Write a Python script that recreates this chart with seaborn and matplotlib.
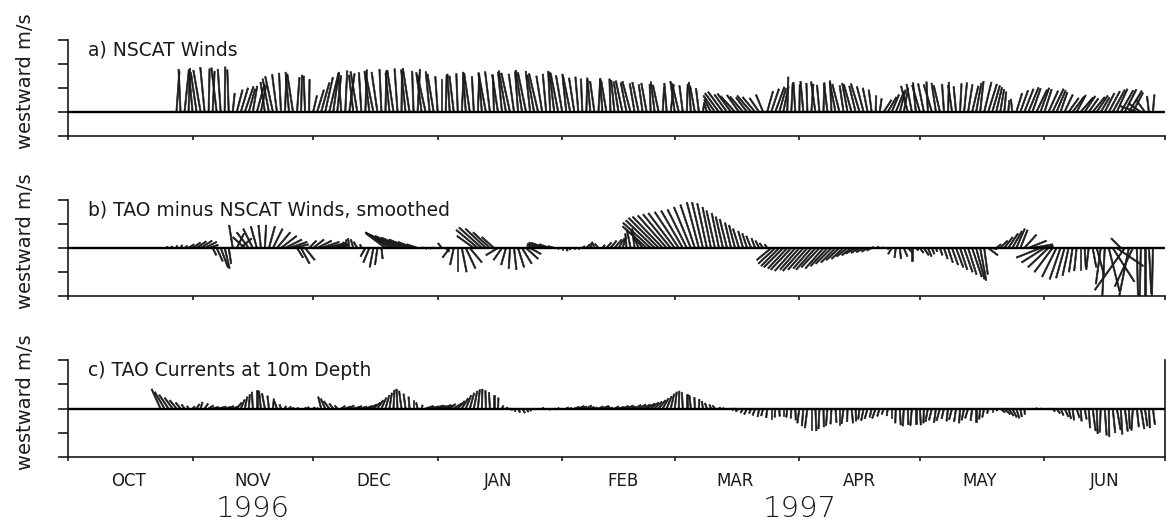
import numpy as np
import pandas as pd
import matplotlib
matplotlib.use("Agg")
import matplotlib.pyplot as plt
import matplotlib.dates as mdates
import matplotlib.ticker as mticker
from matplotlib.transforms import blended_transform_factory
import seaborn as sns

# ---------------------------------------------------------------------------
# Daily vector series (u = northward-ish component drawn sideways,
# v = westward component drawn upward), m/s
# ---------------------------------------------------------------------------

# a) NSCAT winds, daily from 1996-10-28
nscat_start = "1996-10-28"
nscat_u = [
    0.6, -0.4, 0.9, 0.3, -0.8, -1.2, -1.5, -0.9, 0.2, 0.4, -1.1, -0.6, 0.1, -0.3,
    0.4, 1.2, 1.5, 1.8, 1.3, 0.9, 1.6, 1.1,
    -0.9, -1.3, -1.6, -1.0, -0.4, 0.3, -0.7, -1.2, 0.5, 0.2, -0.3, 0.1,
    0.8, 1.4, 1.7,
    1.6, 1.9, 1.2, 0.8, -0.6, 0.4, 1.1, -0.9, -1.4, -0.5, 0.3, -1.0, -1.6, -1.2, -0.4, 0.2, -0.8, -1.3, -0.6, 0.1,
    -0.9, -1.4, -0.3, 0.5, -1.1, -1.7, -0.8, -1.3, -0.5, 0.0,
    0.2, -0.5, -0.9, -0.3, 0.4, -0.6, -1.2, -0.4, 0.3, -0.7, -1.5, -1.0, -0.2,
    -1.2, -0.8, -1.5, -1.8, -1.1, -0.6, -1.3, -1.7, -0.9, -1.4, -1.9, -1.2, -0.7, -0.4, -1.0, -1.6, -1.3, -0.8, -1.5, -1.1, -0.6,
    -0.3, 0.2, -0.6, -0.9, 0.4, -0.5, -1.1, -0.2, -0.7, -1.0,
    -1.4, -1.2, -1.7, -1.0, -1.3, -0.8, -1.1,
    -0.2, -0.8, -1.2, 0.3, -0.5, 0.6, -0.9, -1.4, -0.7, 0.2, -0.4, -1.0, -0.6,
    0.3, -0.5,
    -1.4, -2.4, -2.9, -3.1, -2.6, -2.8, -3.0, -2.5, -2.7, -2.3, -2.9, -2.6, -2.0, -1.5,
    1.2, 1.6, 1.9, 1.4, 1.1,
    0.2,
    0.3, -0.4, 0.1, -0.6, -0.2, 0.4, -0.9, -0.5, 0.2, -0.7, -0.3, -1.2, -1.5, -0.8, -1.1, -1.6, -1.3, -1.8, -1.4, -1.0, -0.6,
    0.1, 0.4,
    1.6, 1.8, 1.5, 1.7, 1.2, 0.9,
    -1.4, -1.1, -0.6, -1.6, -1.2, -0.3, -1.7, -0.9, -1.3, -0.4, 0.2, -0.8, -0.5, 0.3, 0.6, 0.9, 1.3, 1.1, 0.7, 1.5, 1.8, 1.6, 1.2, 0.8, 0.4,
    0.2, -0.3,
    1.2, 1.6, 1.9, 2.1, 1.7, 2.2, 1.8, 1.5, 2.0, 2.3, 1.9, 1.4, 1.7,
    2.1, 2.4, 1.9, 2.6, 2.2, 2.0, 2.5, 2.3, 1.8,
    2.0, 2.3, 2.5, 2.2, 2.6, 2.4, 2.7, 2.1,
    -3.4, -2.6, -1.8, -0.4, 0.3,
]
nscat_v = [
    8.4, 8.9, 8.6, 9.1, 8.8, 8.2, 8.7, 9.3, 9.0, 8.5, 9.2, 8.9, 9.4, 8.8,
    3.9, 4.6, 5.0, 5.3, 4.8, 5.4, 5.8, 5.5,
    6.2, 6.9, 7.4, 7.8, 8.1, 7.6, 8.3, 7.9, 7.2, 7.7, 7.5, 6.8,
    3.4, 4.6, 6.1,
    7.2, 7.9, 8.3, 7.6, 8.1, 8.6, 8.0, 7.7, 8.4, 8.2, 8.8, 8.5, 7.9, 8.3, 8.9, 8.6, 8.1, 8.7, 9.0, 8.4,
    8.8, 9.1, 8.5, 8.9, 8.2, 7.6, 8.4, 7.9, 7.4, 6.8,
    7.6, 7.9, 7.5, 8.0, 7.8, 8.3, 8.1, 7.4, 7.7, 8.2, 7.9, 8.4, 7.6,
    7.8, 8.3, 8.6, 8.1, 7.9, 8.4, 8.7, 8.2, 8.5, 7.7, 8.0, 7.5, 7.9, 8.5, 8.3, 8.1, 7.6, 7.9, 7.4, 7.1, 7.3,
    6.9, 7.1, 6.7, 6.4, 7.0, 6.8, 6.5, 6.9, 6.6, 6.3,
    6.5, 6.1, 6.4, 5.9, 6.2, 5.7, 6.0,
    5.8, 6.3, 5.6, 5.2, 6.0, 5.7, 6.4, 5.9, 5.5, 5.8, 6.2, 5.4, 4.9,
    2.0, 1.6,
    2.6, 3.4, 3.9, 4.2, 3.6, 3.8, 3.3, 3.5, 3.2, 3.0, 3.4, 3.1, 2.9, 3.6,
    4.3, 4.8, 5.2, 4.9, 5.3,
    7.3,
    5.9, 6.2, 5.7, 6.4, 6.0, 5.8, 6.3, 5.6, 6.1, 5.9, 6.5, 6.2, 5.8, 5.5, 6.0, 5.7, 5.4, 5.9, 5.3, 5.0, 4.6,
    3.4, 2.8,
    2.5, 3.1, 3.6, 4.2, 4.6, 5.0,
    5.4, 5.8, 6.1, 5.6, 5.9, 6.3, 5.7, 6.0, 5.5, 5.8, 6.2, 5.6, 5.3, 5.9, 6.1, 5.7, 5.4, 6.0, 6.4, 6.2, 5.8, 5.5, 5.1, 4.7, 4.2,
    2.4, 2.7,
    3.9, 4.5, 4.8, 5.1, 4.9, 4.6, 5.0, 4.7, 4.4, 4.8, 4.5, 4.1, 3.6,
    2.9, 3.2, 3.5, 3.0, 3.3, 2.8, 3.1, 3.4, 3.0,
    3.9, 4.3, 4.6, 4.8, 4.5, 4.7, 4.4, 4.0,
    1.2, 1.8, 2.5, 3.3, 3.6,
]

# b) TAO minus NSCAT winds (smoothed), daily from 1996-10-26
diff_start = "1996-10-26"
diff_u = [
    -0.15, -0.10, 0.05, 0.15, 0.25,
    0.45, 0.65, 0.80, 0.95, 1.00, 0.80,
    0.3, 0.5, 0.6, 0.4, 0.2,
    -0.3,
    0.6, 0.9,
    -1.0, -1.0, -0.8, -0.5, -0.2, 0.1, 0.5, 0.8, 1.1, 1.3, 1.4, 1.5, 1.3,
    0.5, 0.7, 0.8,
    0.6, 0.9, 1.2, 1.5, 1.7, 1.6, 1.2,
    0.3, 0.2, 0.1, -0.1, -0.2, -0.3, -0.1,
    -0.4, -0.5, -0.3, -0.2, 0.1,
    -1.6, -2.0, -2.3, -2.4, -2.2, -2.0, -1.7, -1.3, -0.9,
    0.1, 0.05, 0.1, -0.1, 0.0,
    -0.3, 0.3,
    -0.6, -0.3, 0.0, 0.4, 0.8, 1.0,
    -1.4, -1.8, -1.9, -1.7, -1.4, -1.0,
    -1.0, -0.7, -0.4, -0.1, 0.2, 0.5, 0.8, 1.0, 0.9,
    -0.6, -0.9, -1.1, -1.2, -0.9, -0.5,
    0.05, 0.0, 0.1, -0.05, 0.1, 0.05,
    0.2, 0.3, 0.1, -0.2, -0.3, 0.2, 0.4, 0.5, 0.6, 0.5,
    0.3, -0.1, -0.3, -0.2, -0.6, -0.9,
    -2.0, -2.3, -2.4, -2.5, -2.5, -2.4, -2.3, -2.2, -2.0, -1.8, -1.6, -1.4, -1.2, -1.0, -0.9, -0.8,
    -0.7, -0.7, -0.6, -0.6, -0.6, -0.5, -0.5, -0.5, -0.4, -0.4, -0.4, -0.3, -0.3, -0.3, -0.2,
    -1.2, -1.4, -1.5, -1.6, -1.6, -1.7, -1.7, -1.6, -1.7, -1.6, -1.5, -1.6, -1.5,
    -1.5, -1.4, -1.3, -1.2, -1.1, -1.0, -0.9, -0.8, -0.8, -0.7, -0.6, -0.5, -0.4,
    -0.3, -0.2, -0.1, 0.0, -0.3, -0.1, 0.1, 0.3, 0.4,
    0.0,
    0.2, 0.3, 0.4, 0.3, 0.2, 0.1,
    0.2, 0.3, 0.4, 0.5, 0.6, 0.6, 0.7, 0.7, 0.8, 0.7, 0.5, 0.3,
    0.8, 0.4,
    0.4, 0.6, 0.7, 0.8, 0.8, 0.7, 0.6, 1.0, 1.5, 1.7, 1.4,
    -2.0, -1.9, -1.7, -1.5, -1.2, -0.9, -0.7, -0.5, -0.3, -0.2, 0.0, 0.1, -0.2,
    0.3, 0.6, -0.4, -0.2, 0.9, 1.8, 2.2, -0.8, -2.5, -0.8, -1.5, 0.1, -0.1, 0.0, 0.2, -0.1,
]
diff_v = [
    0.10, 0.15, 0.20, 0.25, 0.18,
    0.30, 0.45, 0.55, 0.60, 0.50, 0.25,
    -0.6, -1.1, -1.6, -1.7, -1.3,
    1.9,
    1.2, 0.8,
    0.9, 1.3, 1.6, 1.8, 1.9, 1.9, 1.8, 1.6, 1.3, 1.0, 0.7, 0.5, 0.3,
    -0.8, -1.3, -1.0,
    0.6, 0.7, 0.6, 0.5, 0.4, 0.3, 0.2,
    0.3, 0.5, 0.7, 0.8, 0.7, 0.5, 0.3,
    -0.7, -1.2, -1.6, -1.4, -0.9,
    1.2, 1.3, 1.25, 1.15, 1.0, 0.85, 0.7, 0.5, 0.3,
    0.05, 0.0, -0.05, 0.05, 0.1,
    0.4, -0.3,
    -0.8, -1.4, -1.9, -2.0, -1.7, -1.2,
    1.0, 1.5, 1.7, 1.6, 1.3, 0.9,
    -0.6, -1.0, -1.4, -1.7, -1.8, -1.6, -1.3, -0.9, -0.5,
    0.2, 0.35, 0.45, 0.4, 0.3, 0.15,
    -0.1, -0.2, -0.25, -0.15, -0.1, 0.0,
    0.15, 0.3, 0.4, 0.5, 0.35, 0.25, 0.45, 0.6, 0.7, 0.8,
    0.9, 1.2, 1.5, 1.6, 1.4, 1.2,
    1.8, 2.1, 2.3, 2.5, 2.6, 2.7, 2.8, 2.9, 3.0, 3.1, 3.2, 3.4, 3.6, 3.8, 3.8, 3.7,
    3.4, 3.1, 2.9, 2.6, 2.4, 2.1, 1.9, 1.6, 1.4, 1.2, 1.0, 0.8, 0.6, 0.4, 0.3,
    -1.0, -1.3, -1.5, -1.6, -1.7, -1.8, -1.9, -1.8, -1.9, -1.8, -1.7, -1.8, -1.6,
    -1.7, -1.5, -1.3, -1.2, -1.0, -0.9, -0.7, -0.6, -0.45, -0.4, -0.35, -0.3, -0.2,
    0.05, 0.1, 0.05, -0.1, -0.5, -0.8, -0.9, -0.7, -0.4,
    -1.1,
    -0.2, -0.4, -0.6, -0.7, -0.5, -0.3,
    -0.6, -0.9, -1.2, -1.4, -1.6, -1.8, -2.0, -2.2, -2.4, -2.6, -2.7, -2.2,
    -0.6, -0.1,
    0.3, 0.6, 0.9, 1.2, 1.4, 1.6, 1.5, 1.1, 0.6, 0.3, 0.15,
    -0.8, -1.2, -1.6, -2.0, -2.4, -2.6, -2.5, -2.3, -2.0, -1.9, -1.8, -1.6, -1.8,
    -1.6, -2.2, -3.0, -4.0, -3.6, -2.8, -1.5, 0.8, -3.5, -4.0, -3.2, -4.2, -4.0, -4.4, -3.8, -4.5,
]

# c) TAO currents at 10 m depth, daily from 1996-10-24
curr_start = "1996-10-24"
curr_u = [
    -0.18, -0.20, -0.19, -0.16, -0.14, -0.10, -0.06, -0.03,
    0.05, 0.06, 0.04, 0.07, 0.10, 0.12, 0.14, 0.11, 0.13, 0.10, 0.12,
    0.10, 0.08, 0.05, 0.02, -0.02, 0.00, -0.04, -0.06, -0.03, 0.02, -0.05,
    -0.03, 0.02, 0.04, 0.01,
    0.03, 0.05, 0.02, -0.03, 0.04, 0.02,
    -0.06, -0.09, -0.11, -0.08, -0.05,
    0.08, 0.12, 0.10, 0.14, 0.09, 0.11,
    0.14, 0.15, 0.14, 0.12, 0.10, 0.08, 0.05, 0.02, -0.02, -0.05, -0.04, -0.02, 0.00, -0.03, 0.02,
    0.16, 0.18, 0.20, 0.17, 0.19, 0.15, 0.12,
    0.16, 0.14, 0.13, 0.11, 0.09, 0.07, 0.04, 0.01, -0.01, -0.02, 0.00, 0.01,
    0.03, 0.04,
    0.05, 0.03, 0.04, 0.06, 0.05, 0.02, 0.03,
    0.02, 0.03, 0.01, -0.02, 0.03, 0.02, 0.04, 0.05, 0.03,
    0.10, 0.12, 0.09, 0.11, 0.08, 0.06, 0.10, 0.13, 0.07, 0.05, 0.09, 0.11, 0.12, 0.14, 0.10, 0.13, 0.15,
    0.16, 0.17, 0.16, 0.15, 0.14, 0.12, 0.10, 0.07, 0.04, 0.01, -0.02, 0.00, -0.03, -0.01, 0.01, -0.02, -0.04, -0.03, -0.05,
    0.03, 0.02, 0.04, 0.02,
    -0.06, -0.07, -0.05, -0.06, -0.04, -0.05, -0.03, -0.04, -0.02, 0.00, -0.01, 0.01,
    0.00, -0.02, -0.01, 0.01,
    -0.04, -0.03, -0.05, 0.00, 0.02, -0.02, 0.01, -0.03,
    -0.02, 0.02, 0.00, -0.04, -0.01, 0.03, 0.01, -0.03, -0.05, -0.06, -0.04, -0.07, -0.05,
    -0.04, -0.02, 0.00,
    -0.01, 0.02, -0.02, 0.01, -0.03, 0.00, 0.02, -0.01,
    -0.05, -0.06, -0.04, -0.07, -0.05, -0.03, -0.06, -0.04, -0.02, -0.05, -0.06, -0.03, 0.00, -0.02, -0.04,
    -0.02, 0.00, 0.02,
    0.10, 0.12, 0.11, 0.09, 0.06, 0.03, 0.01,
    0.02, 0.03, 0.01, 0.02, 0.04, 0.03,
    0.05, 0.07, 0.06, 0.08, 0.05, 0.03, 0.06, 0.02, 0.04,
    0.03, 0.06, 0.02, -0.02, 0.04, 0.01, 0.05, 0.08, 0.03, 0.06, 0.02, -0.03, 0.04, 0.07, 0.05, 0.02, 0.04,
]
curr_v = [
    0.40, 0.34, 0.28, 0.22, 0.17, 0.12, 0.08, 0.05,
    0.04, 0.09, 0.13, 0.10, 0.06, 0.03, 0.02, 0.04, 0.03, 0.05, 0.04,
    0.12, 0.18, 0.24, 0.29, 0.34, 0.38, 0.36, 0.31, 0.26, 0.20, 0.14,
    0.08, 0.05, 0.04, 0.02,
    0.01, 0.00, 0.02, 0.03, 0.02, 0.01,
    0.24, 0.20, 0.15, 0.10, 0.06,
    0.05, 0.04, 0.06, 0.03, 0.05, 0.04,
    0.05, 0.08, 0.12, 0.17, 0.22, 0.27, 0.32, 0.38, 0.40, 0.36, 0.30, 0.24, 0.18, 0.12, 0.07,
    0.05, 0.04, 0.06, 0.05, 0.07, 0.06, 0.09,
    0.10, 0.15, 0.21, 0.27, 0.32, 0.36, 0.39, 0.40, 0.37, 0.33, 0.28, 0.22,
    0.06, 0.02,
    -0.03, -0.06, -0.08, -0.09, -0.07, -0.05, -0.02,
    0.00, 0.01, -0.01, -0.03, -0.02, 0.01, 0.00, 0.02, 0.01,
    0.03, 0.05, 0.04, 0.06, 0.03, 0.02, 0.04, 0.05, 0.03, 0.02, 0.04, 0.03, 0.05, 0.06, 0.04, 0.07, 0.08,
    0.08, 0.10, 0.12, 0.14, 0.17, 0.21, 0.25, 0.30, 0.34, 0.36, 0.33, 0.30, 0.27, 0.23, 0.19, 0.15, 0.11, 0.08, 0.06,
    0.02, 0.01, 0.00, -0.01,
    -0.03, -0.06, -0.09, -0.12, -0.10, -0.14, -0.17, -0.15, -0.19, -0.21, -0.18, -0.16,
    -0.15, -0.18, -0.20, -0.24,
    -0.30, -0.36, -0.40, -0.44, -0.46, -0.42, -0.38, -0.35,
    -0.32, -0.29, -0.34, -0.31, -0.27, -0.30, -0.26, -0.22, -0.25, -0.21, -0.18, -0.20, -0.16,
    -0.12, -0.15, -0.19,
    -0.30, -0.34, -0.36, -0.33, -0.35, -0.31, -0.34, -0.30,
    -0.27, -0.24, -0.29, -0.25, -0.21, -0.26, -0.23, -0.27, -0.30, -0.24, -0.20, -0.25, -0.28, -0.22, -0.18,
    -0.10, -0.07, -0.05,
    -0.08, -0.12, -0.15, -0.18, -0.20, -0.17, -0.12,
    -0.02, 0.00, 0.01, -0.01, 0.00, -0.02,
    -0.06, -0.10, -0.14, -0.17, -0.21, -0.24, -0.19, -0.26, -0.22,
    -0.40, -0.46, -0.52, -0.49, -0.55, -0.58, -0.50, -0.44, -0.53, -0.47, -0.41, -0.45, -0.38, -0.42, -0.36, -0.40, -0.33,
]

titles = ["a) NSCAT Winds",
          "b) TAO minus NSCAT Winds, smoothed",
          "c) TAO Currents at 10m Depth"]
y_limits = [(-5, 15), (-4, 4), (-1, 1)]
y_steps = [5, 2, 0.5]
axis_start, axis_end = "1996-10-01", "1997-07-01"
year_labels = ["1996", "1997"]
year_label_dates = ["1996-11-16", "1997-04-01"]

# ---------------------------------------------------------------------------
sns.set_style("ticks")
plt.rcParams["font.family"] = ["DejaVu Sans"]
INK = "#1a1a1a"

fig = plt.figure(figsize=(11.66, 5.23), dpi=100)
W, H = 1166.0, 523.0
left, right = 68 / W, 1165 / W
boxes = [(40, 136), (200, 296), (360, 457)]   # top / bottom pixel rows

series = [(nscat_start, nscat_u, nscat_v),
          (diff_start, diff_u, diff_v),
          (curr_start, curr_u, curr_v)]

x0 = mdates.date2num(pd.Timestamp(axis_start))
x1 = mdates.date2num(pd.Timestamp(axis_end))

axes = []
for i, ((top, bot), (start, u, v)) in enumerate(zip(boxes, series)):
    ax = fig.add_axes([left, 1 - bot / H, right - left, (bot - top) / H])
    axes.append(ax)
    dates = mdates.date2num(pd.date_range(start, periods=len(u), freq="D"))
    u = np.asarray(u, float)
    v = np.asarray(v, float)

    # stick plot: each vector drawn from the zero line, equal screen scaling
    ax.quiver(dates, np.zeros_like(dates), u, v,
              angles="uv", scale_units="y", scale=1, pivot="tail",
              units="dots", width=1.4, headwidth=0, headlength=0,
              headaxislength=0, minlength=0, color=INK,
              edgecolor=INK, linewidth=0.45, zorder=3)
    ax.axhline(0, color="black", lw=1.7, zorder=4)

    lo, hi = y_limits[i]
    ax.set_ylim(lo, hi)
    ax.set_xlim(x0, x1)
    ax.set_yticks(np.arange(lo, hi + y_steps[i] / 2, y_steps[i]))
    ax.yaxis.set_major_formatter(mticker.NullFormatter())

    ax.xaxis.set_major_locator(mdates.MonthLocator())
    ax.xaxis.set_major_formatter(mticker.NullFormatter())
    ax.xaxis.set_minor_locator(mdates.MonthLocator(bymonthday=16))
    if i == 2:
        ax.xaxis.set_minor_formatter(mticker.FuncFormatter(
            lambda x, pos: mdates.num2date(x).strftime("%b").upper()))
    else:
        ax.xaxis.set_minor_formatter(mticker.NullFormatter())

    ax.tick_params(axis="y", direction="out", length=7.5, width=1.2, color=INK)
    ax.tick_params(axis="x", which="major", direction="out", length=3,
                   width=1.2, color=INK)
    ax.tick_params(axis="x", which="minor", length=0, pad=11,
                   labelsize=12, labelcolor=INK)

    for side in ("top", "right"):
        ax.spines[side].set_visible(False)
    if i == 2:
        ax.spines["right"].set_visible(True)
    for side in ("left", "bottom", "right"):
        ax.spines[side].set_color(INK)
        ax.spines[side].set_linewidth(1.2)
    ax.patch.set_alpha(0)

    ax.text(0.018, 0.896, titles[i], transform=ax.transAxes,
            ha="left", va="center", fontsize=13.5, color=INK)
    ax.text(-0.039, 0.57, "westward m/s", transform=ax.transAxes,
            rotation=90, ha="center", va="center", fontsize=14, color=INK)

axc = axes[2]
trans = blended_transform_factory(axc.transData, axc.transAxes)
for lab, d in zip(year_labels, year_label_dates):
    axc.text(mdates.date2num(pd.Timestamp(d)), -0.535, lab, transform=trans,
             ha="center", va="center", fontsize=21, color=INK,
             fontweight="light")

fig.savefig("out.png", dpi=100)
